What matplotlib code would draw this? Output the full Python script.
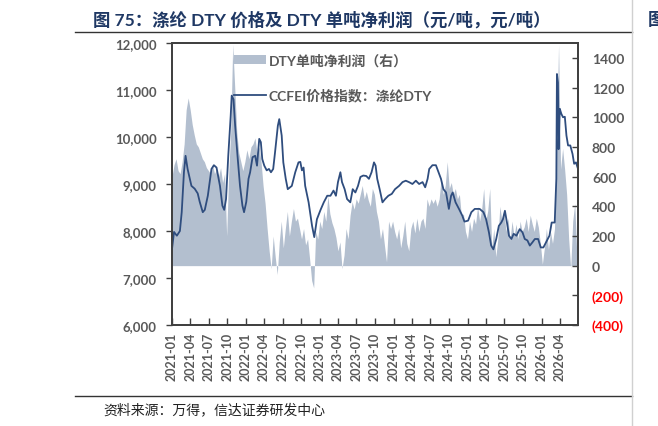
import matplotlib

matplotlib.use("Agg")
import matplotlib.pyplot as plt
import matplotlib.dates as mdates
import pandas as pd

plt.rcParams["font.family"] = ["Lato", "Noto Sans CJK SC", "DejaVu Sans"]

TITLE = "图 75：涤纶 DTY 价格及 DTY 单吨净利润（元/吨，元/吨）"
SOURCE = "资料来源：万得，信达证券研发中心"
LABEL_PROFIT = "DTY单吨净利润（右）"
LABEL_PRICE = "CCFEI价格指数：涤纶DTY"

# CCFEI 涤纶DTY 价格 (元/吨), 左轴
price_dates = [
    "2021-01-01", "2021-01-11", "2021-01-25", "2021-02-09", "2021-02-18", "2021-03-01",
    "2021-03-09", "2021-03-19", "2021-04-07", "2021-04-23", "2021-05-08", "2021-05-18",
    "2021-06-02", "2021-06-12", "2021-06-27", "2021-07-15", "2021-07-27", "2021-08-09",
    "2021-08-26", "2021-09-07", "2021-09-16", "2021-09-25", "2021-10-06", "2021-10-18",
    "2021-10-23", "2021-11-01", "2021-11-09", "2021-11-22", "2021-12-03", "2021-12-15",
    "2021-12-23", "2022-01-03", "2022-01-14", "2022-01-22", "2022-02-03", "2022-02-16",
    "2022-02-25", "2022-03-08", "2022-03-16", "2022-03-23", "2022-04-02", "2022-04-14",
    "2022-04-25", "2022-05-05", "2022-05-16", "2022-05-25", "2022-06-08", "2022-06-15",
    "2022-06-27", "2022-07-05", "2022-07-17", "2022-07-27", "2022-08-16", "2022-09-02",
    "2022-09-18", "2022-09-27", "2022-10-05", "2022-10-13", "2022-10-21", "2022-11-07",
    "2022-11-24", "2022-12-05", "2022-12-18", "2023-01-05", "2023-01-21", "2023-02-07",
    "2023-02-23", "2023-03-10", "2023-03-22", "2023-04-01", "2023-04-13", "2023-04-21",
    "2023-05-04", "2023-05-16", "2023-06-01", "2023-06-13", "2023-06-26", "2023-07-09",
    "2023-07-21", "2023-08-04", "2023-08-19", "2023-09-01", "2023-09-14", "2023-09-26",
    "2023-10-04", "2023-10-12", "2023-10-24", "2023-11-07", "2023-11-20", "2023-12-06",
    "2023-12-23", "2024-01-08", "2024-01-28", "2024-02-14", "2024-03-01", "2024-03-17",
    "2024-04-03", "2024-04-20", "2024-05-06", "2024-05-23", "2024-06-05", "2024-06-17",
    "2024-06-25", "2024-07-11", "2024-07-28", "2024-08-10", "2024-08-22", "2024-09-03",
    "2024-09-16", "2024-09-30", "2024-10-11", "2024-10-19", "2024-11-02", "2024-11-19",
    "2024-12-05", "2024-12-16", "2025-01-03", "2025-01-19", "2025-02-05", "2025-03-01",
    "2025-03-20", "2025-04-02", "2025-04-16", "2025-04-27", "2025-05-08", "2025-05-22",
    "2025-06-04", "2025-06-16", "2025-06-24", "2025-07-04", "2025-07-14", "2025-07-24",
    "2025-08-05", "2025-08-16", "2025-08-30", "2025-09-15", "2025-09-29", "2025-10-10",
    "2025-10-23", "2025-11-04", "2025-11-17", "2025-11-29", "2025-12-15", "2025-12-28",
    "2026-01-10", "2026-01-23", "2026-02-09", "2026-02-20", "2026-03-07", "2026-03-15",
    "2026-03-18", "2026-03-23", "2026-03-26", "2026-04-01", "2026-04-09", "2026-04-17",
    "2026-04-26", "2026-05-04", "2026-05-12", "2026-05-23", "2026-06-03", "2026-06-11",
    "2026-06-20", "2026-06-28",
]
price_values = [
    7617, 7980, 7900, 8000, 8400, 9250,
    9600, 9320, 8960, 8900, 8800, 8620,
    8400, 8450, 8750, 9320, 9400, 9350,
    8960, 8540, 8450, 8680, 9600, 10450,
    10880, 10800, 10240, 9530, 8960, 8540,
    8400, 8620, 9110, 9250, 9570, 9600,
    9390, 9960, 9890, 9530, 9390, 9290,
    9320, 9250, 9320, 9670, 10240, 10380,
    10030, 9460, 9110, 8890, 8960, 9250,
    9460, 9470, 9290, 9350, 8960, 8610,
    8110, 7870, 8250, 8450, 8610, 8750,
    8750, 8860, 8750, 9040, 9250, 9040,
    8890, 8680, 8610, 8890, 8820, 8960,
    9150, 9180, 9170, 9110, 9250, 9460,
    9390, 9110, 8890, 8610, 8680, 8750,
    8790, 8890, 8960, 9040, 9070, 9040,
    9000, 9070, 9000, 9040, 8930, 9110,
    9320, 9400, 9400, 9250, 9110, 8890,
    8820, 8470, 8750, 8820, 8610, 8470,
    8330, 8200, 8220, 8400, 8470, 8470,
    8400, 8250, 7970, 7690, 7610, 7830,
    8110, 8180, 8250, 8430, 8180, 7900,
    7830, 7940, 7900, 8040, 7970, 7830,
    7800, 7690, 7760, 7830, 7830, 7650,
    7650, 7760, 7900, 8180, 8180, 9110,
    11340, 11160, 9740, 10600, 10490, 10420,
    10430, 10030, 9820, 9820, 9640, 9430,
    9460, 9350,
]

# DTY 单吨净利润 (元/吨), 右轴, 每10天一个点
profit_start = "2021-01-01"
profit_values = [
    600, 680, 720, 640, 620, 700, 820, 1050, 1130, 1050,
    950, 880, 820, 800, 760, 720, 700, 660, 640, 620,
    680, 620, 650, 600, 660, 560, 620, 200, 620, 900,
    1490, 1200, 900, 760, 700, 640, 700, 780, 720, 800,
    820, 860, 760, 800, 700, 540, 420, 250, 100, -20,
    200, 60, -60, 160, 300, 120, 250, 365, 200, 300,
    385, 300, 320, 250, 180, 250, 140, 180, 45, -100,
    -150, 230, 180, 300, 250, 365, 300, 470, 350, 290,
    250, 190, 100, 160, -20, 70, 250, 180, 340, 430,
    380, 450, 420, 480, 540, 450, 500, 440, 400, 520,
    480, 365, 300, 180, 250, 135, 25, 300, 250, 300,
    230, 180, 250, 120, 200, 300, 150, 100, 250, 300,
    220, 320, 230, 300, 320, 250, 450, 400, 450, 420,
    450, 400, 450, 590, 480, 540, 700, 520, 560, 480,
    520, 450, 480, 330, 350, 230, 180, 300, 230, 320,
    280, 400, 300, 380, 520, 300, 370, 520, 120, 250,
    60, 180, 400, 300, 380, 230, 320, 170, 300, 200,
    280, 180, 300, 230, 260, 320, 230, 340, 280, 230,
    320, 260, 150, 10, 120, 250, 110, 230, 150, 250,
    800, 1490, 650, 790, 650, 480, 180, -20, 300, 420,
    80, 150,
]

left_ticks = [6000, 7000, 8000, 9000, 10000, 11000, 12000]
right_ticks = [-400, -200, 0, 200, 400, 600, 800, 1000, 1200, 1400]
x_ticks = pd.date_range("2021-01-01", "2026-04-01", freq="QS")

NAVY = "#2F4D7E"
AREA = "#B3BFCF"
TEXT = "#595959"
SPINE = "#404040"

price_x = pd.to_datetime(price_dates)
profit_x = pd.date_range(profit_start, periods=len(profit_values), freq="10D")

fig = plt.figure(figsize=(6.58, 4.27), dpi=100)
ax = fig.add_axes([0.2614, 0.2365, 0.617, 0.6605])
ax2 = ax.twinx()
ax.set_zorder(ax2.get_zorder() + 1)
ax.patch.set_visible(False)

ax2.fill_between(profit_x, 0, profit_values, color=AREA, linewidth=0, label=LABEL_PROFIT)
ax.plot(price_x, price_values, color=NAVY, lw=1.3, label=LABEL_PRICE)

ax.set_xlim(pd.Timestamp("2021-01-01"), pd.Timestamp("2026-06-30"))
ax.set_ylim(6000, 12000)
ax2.set_ylim(-400, 1500)

ax.set_xticks(x_ticks)
ax.xaxis.set_major_formatter(mdates.DateFormatter("%Y-%m"))
ax.set_yticks(left_ticks)
ax.set_yticklabels([f"{v:,}" for v in left_ticks])
ax2.set_yticks(right_ticks)
ax2.set_yticklabels([f"({abs(v)})" if v < 0 else f"{v}" for v in right_ticks])

for lab in ax.get_xticklabels():
    lab.set_rotation(90)
    lab.set_fontsize(9)
    lab.set_fontweight("bold")
    lab.set_color(TEXT)
for lab in ax.get_yticklabels():
    lab.set_fontsize(9.5)
    lab.set_fontweight("bold")
    lab.set_color(TEXT)
for lab, v in zip(ax2.get_yticklabels(), right_ticks):
    lab.set_fontsize(10)
    lab.set_fontweight("bold")
    lab.set_color("#FF0000" if v < 0 else TEXT)

ax.tick_params(axis="x", direction="in", length=5, width=1, color=SPINE, pad=5)
ax.tick_params(axis="y", direction="out", length=4, width=1, color=SPINE, pad=7)
ax2.tick_params(axis="y", direction="in", length=4, width=1, color=SPINE, pad=10)

for a in (ax, ax2):
    for s in a.spines.values():
        s.set_color(SPINE)
        s.set_linewidth(1.3)

h1, l1 = ax2.get_legend_handles_labels()
h2, l2 = ax.get_legend_handles_labels()
leg = ax.legend(
    h1 + h2,
    l1 + l2,
    loc="upper left",
    bbox_to_anchor=(0.152, 0.965),
    frameon=False,
    borderpad=0,
    borderaxespad=0,
    handlelength=2.3,
    handletextpad=0.2,
    labelspacing=1.55,
    prop={"size": 10, "weight": "bold"},
)
for t in leg.get_texts():
    t.set_color(TEXT)

# 标题、分隔线、来源
fig.text(0.141, 0.953, TITLE, fontsize=12.5, fontweight="bold", color="#1F3864",
         ha="left", va="center")
fig.add_artist(plt.Line2D([0.114, 0.96], [0.923, 0.923], color="#333333", lw=1.0))
fig.add_artist(plt.Line2D([0.114, 0.96], [0.07, 0.07], color="#333333", lw=1.0))
fig.add_artist(plt.Line2D([0.961, 0.961], [0.0, 1.0], color="#D0D0D0", lw=1.0))
fig.text(0.157, 0.04, SOURCE, fontsize=10, color="#222222", ha="left", va="center",
         family=["Noto Sans CJK SC", "DejaVu Sans"])
fig.text(0.985, 0.953, "图", fontsize=12.5, fontweight="bold", color="#1F3864",
         ha="left", va="center")

fig.savefig("out.png", dpi=100)
